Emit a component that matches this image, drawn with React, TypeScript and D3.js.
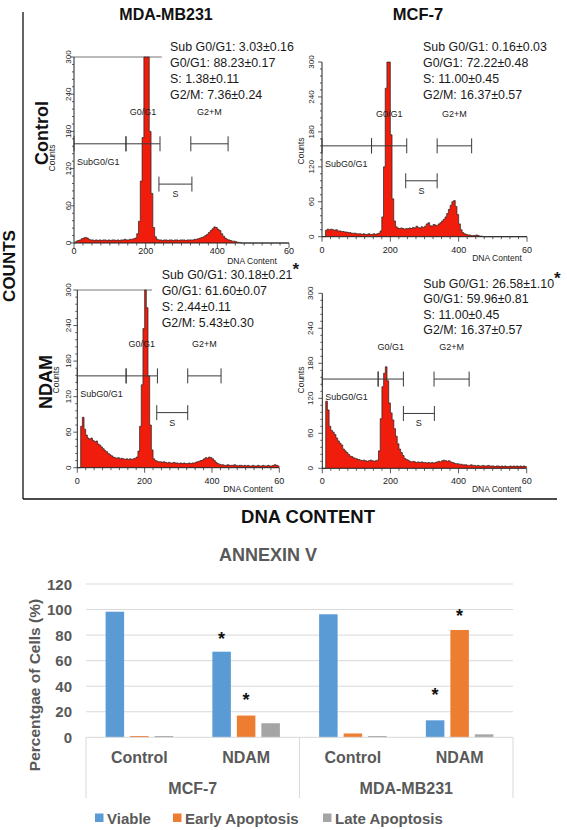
import React from "react";
import * as d3 from "d3";

// ---------------- DATA: DNA content histograms (bin width 5, 0..595) ----------------
const BIN = 5;
const mdaControlCounts = [
  0, 3, 4, 5, 7, 8, 9, 8, 6, 5,
  5, 4, 5, 4, 5, 4, 5, 5, 4, 5,
  4, 5, 5, 4, 5, 4, 5, 5, 6, 5,
  5, 6, 6, 7, 8, 15, 35, 100, 170, 300,
  300, 300, 180, 80, 25, 10, 6, 5, 5, 4,
  5, 5, 4, 5, 5, 4, 5, 5, 4, 5,
  5, 5, 4, 5, 5, 5, 5, 6, 6, 7,
  8, 9, 10, 12, 14, 17, 20, 23, 26, 25,
  22, 20, 15, 11, 8, 6, 5, 4, 3, 3,
  2, 1, 1, 0, 0, 0, 0, 0, 0, 0,
  0, 0, 0, 0, 0, 0, 0, 0, 0, 0,
  0, 0, 0, 0, 0, 0, 0, 0, 0, 0,
];
const mcfControlCounts = [
  0, 0, 11, 13, 12, 13, 12, 11, 12, 10,
  10, 9, 9, 8, 8, 7, 7, 6, 6, 6,
  5, 5, 5, 4, 5, 4, 4, 5, 4, 4,
  5, 4, 5, 6, 10, 34, 120, 255, 300, 300,
  175, 65, 27, 17, 15, 14, 15, 14, 13, 14,
  14, 15, 14, 16, 15, 18, 16, 15, 17, 16,
  18, 22, 24, 19, 18, 21, 20, 19, 22, 24,
  27, 30, 34, 40, 47, 54, 60, 62, 52, 38,
  22, 12, 7, 5, 4, 3, 3, 2, 2, 2,
  3, 2, 1, 1, 0, 0, 0, 0, 0, 0,
  0, 0, 0, 0, 0, 0, 0, 0, 0, 0,
  0, 0, 0, 0, 0, 0, 0, 0, 0, 0,
];
const mdaNdamCounts = [
  0, 0, 70, 85, 65, 55, 50, 48, 50, 46,
  44, 45, 40, 38, 35, 32, 29, 27, 24, 22,
  20, 18, 17, 16, 17, 15, 16, 15, 14, 15,
  14, 15, 14, 15, 16, 18, 28, 70, 140, 235,
  300, 270, 155, 72, 30, 15, 12, 11, 10, 10,
  9, 10, 9, 8, 9, 8, 8, 9, 8, 8,
  7, 8, 7, 8, 7, 7, 8, 7, 8, 8,
  9, 10, 11, 12, 13, 15, 17, 16, 18, 17,
  15, 12, 9, 7, 6, 5, 5, 4, 4, 5,
  4, 4, 4, 5, 4, 3, 4, 4, 3, 4,
  3, 4, 3, 3, 4, 3, 3, 4, 3, 3,
  4, 3, 3, 4, 3, 3, 4, 5, 4, 3,
];
const mcfNdamCounts = [
  0, 0, 115, 100, 72, 65, 62, 58, 52, 47,
  43, 40, 33, 30, 27, 24, 21, 20, 18, 17,
  16, 15, 14, 13, 14, 13, 12, 13, 14, 13,
  12, 13, 14, 30, 85, 140, 163, 174, 150, 112,
  95, 83, 68, 55, 42, 33, 27, 22, 17, 15,
  14, 12, 11, 12, 11, 10, 11, 10, 11, 10,
  10, 9, 10, 9, 10, 9, 10, 11, 12, 11,
  13, 14, 13, 12, 13, 11, 10, 9, 8, 8,
  7, 7, 6, 6, 6, 5, 5, 6, 5, 5,
  4, 5, 4, 4, 5, 4, 4, 5, 4, 4,
  4, 3, 4, 4, 3, 4, 3, 4, 3, 3,
  4, 3, 4, 3, 4, 3, 4, 3, 4, 3,
];

const cellLineTitles = ["MDA-MB231", "MCF-7"];
const treatmentLabels = ["Control", "NDAM"];
const statsMdaControl = ["Sub G0/G1: 3.03±0.16", "G0/G1: 88.23±0.17", "S: 1.38±0.11", "G2/M: 7.36±0.24"];
const statsMcfControl = ["Sub G0/G1: 0.16±0.03", "G0/G1: 72.22±0.48", "S: 11.00±0.45", "G2/M: 16.37±0.57"];
const statsMdaNdam = ["Sub G0/G1: 30.18±0.21", "G0/G1: 61.60±0.07", "S: 2.44±0.11", "G2/M: 5.43±0.30"];
const statsMcfNdam = ["Sub G0/G1: 26.58±1.10", "G0/G1: 59.96±0.81", "S: 11.00±0.45", "G2/M: 16.37±0.57"];
const histXTicks = [0, 200, 400, 600];
const histXTickLabels = ["0", "200", "400", "60"];
const histYTicks = [0, 60, 120, 180, 240, 300];
const gateNames = ["SubG0/G1", "G0/G1", "S", "G2+M"];
// gates: [start, end] in DNA content units; level in counts
const gatesMdaControl = [[0, 145], [145, 240], [237, 329], [326, 430]];
const gatesMcfControl = [[0, 145], [145, 248], [245, 337], [337, 438]];
const gatesMdaNdam = [[0, 145], [145, 238], [236, 328], [328, 427]];
const gatesMcfNdam = [[0, 164], [164, 238], [238, 329], [328, 431]];
const gateLevelsMain = [160, 156, 155, 153];
const gateLevelsS = [95, 96, 93, 94];

// ---------------- DATA: Annexin V ----------------
const barGroups = ["Control", "NDAM", "Control", "NDAM"];
const barCellLines = ["MCF-7", "MDA-MB231"];
const barSeries = ["Viable", "Early Apoptosis", "Late Apoptosis"];
const viableValues = [98.3, 67, 96.3, 13.3];
const earlyValues = [1, 17, 3, 84];
const lateValues = [1, 11, 1, 2.3];
const barYTicks = [0, 20, 40, 60, 80, 100, 120];
// significance markers: group index, series index, level
const starGroups = [1, 1, 3, 3];
const starSeries = [0, 1, 0, 1];
const starLevels = [80, 32, 36, 98];

const FONT = "Arial, 'Liberation Sans', Helvetica, sans-serif";
const RED = "#f01c0c";

type Layout = {
  left: number; right: number; bottom: number; top: number;
  xLabY: number; yLabX: number; countsX: number; countsY: number;
  dnaX: number; dnaY: number; statsX: number; statsY: number; statsDy: number;
  topLineEnd?: number; star?: { dy: number };
};

const layouts: Layout[] = [
  { left: 74, right: 289, bottom: 243, top: 57, xLabY: 253.5, yLabX: 71, countsX: 54.5, countsY: 158, dnaX: 252, dnaY: 264, statsX: 170, statsY: 51, statsDy: 15.9, topLineEnd: 245 },
  { left: 322, right: 527, bottom: 236.7, top: 62, xLabY: 252.7, yLabX: 314, countsX: 304, countsY: 151, dnaX: 497, dnaY: 261, statsX: 423, statsY: 51, statsDy: 15.9 },
  { left: 77.3, right: 279.3, bottom: 467.7, top: 290, xLabY: 484, yLabX: 71, countsX: 59, countsY: 380, dnaX: 248, dnaY: 492, statsX: 161.7, statsY: 279.3, statsDy: 15.9, topLineEnd: 222, star: { dy: -4 } },
  { left: 322.3, right: 526.7, bottom: 468.3, top: 293.3, xLabY: 483.5, yLabX: 313.5, countsX: 304, countsY: 380, dnaX: 496.7, dnaY: 492, statsX: 423.3, statsY: 287.6, statsDy: 15.6, star: { dy: -4 } },
];
const panelCounts = [mdaControlCounts, mcfControlCounts, mdaNdamCounts, mcfNdamCounts];
const panelStats = [statsMdaControl, statsMcfControl, statsMdaNdam, statsMcfNdam];
const panelGates = [gatesMdaControl, gatesMcfControl, gatesMdaNdam, gatesMcfNdam];

function HistPanel({ idx }: { idx: number }) {
  const L = layouts[idx];
  const counts = panelCounts[idx];
  const x = d3.scaleLinear().domain([0, 600]).range([L.left, L.right]);
  const y = d3.scaleLinear().domain([0, 300]).range([L.bottom, L.top]);
  const pts: [number, number][] = counts.map((c, i) => [i * BIN, Math.min(c, 300)]);
  pts.push([600, counts[counts.length - 1]]);
  const area = d3.area<[number, number]>().x((d) => x(d[0])).y0(y(0)).y1((d) => y(d[1])).curve(d3.curveStepAfter);
  const line = d3.line<[number, number]>().x((d) => x(d[0])).y((d) => y(d[1])).curve(d3.curveStepAfter);
  const minorY = d3.range(0, 301, 12);
  const minorX = d3.range(0, 601, 25);
  const gates = panelGates[idx];
  const cap = 7.5;
  const gateStroke = "#3a3a3a";
  return (
    <g>
      {L.topLineEnd !== undefined && (
        <line x1={x(0)} x2={x(L.topLineEnd)} y1={y(300)} y2={y(300)} stroke="#777" strokeWidth={1} />
      )}
      <path d={area(pts) || ""} fill={RED} />
      <path d={line(pts) || ""} fill="none" stroke="#222" strokeWidth={0.7} />
      <line x1={x(0)} x2={x(0)} y1={y(0)} y2={y(300)} stroke="#222" strokeWidth={1} />
      <line x1={x(0)} x2={x(600)} y1={y(0)} y2={y(0)} stroke="#222" strokeWidth={1} />
      {minorY.map((v) => (
        <line key={"my" + v} x1={x(0) - (v % 60 === 0 ? 4 : 2)} x2={x(0)} y1={y(v)} y2={y(v)} stroke="#333" strokeWidth={0.8} />
      ))}
      {minorX.map((v) => (
        <line key={"mx" + v} x1={x(v)} x2={x(v)} y1={y(0)} y2={y(0) + (v % 200 === 0 ? 5 : 2.5)} stroke="#333" strokeWidth={0.8} />
      ))}
      {histXTicks.map((v, i) => (
        <text key={"xt" + v} x={x(v)} y={L.xLabY} textAnchor="middle" fontSize={9} fontFamily={FONT} fill="#222">
          {histXTickLabels[i]}
        </text>
      ))}
      {histYTicks.map((v) => (
        <text key={"yt" + v} x={L.yLabX} y={y(v)} transform={`rotate(-90, ${L.yLabX}, ${y(v)})`} textAnchor="middle" fontSize={8} fontFamily={FONT} fill="#222">
          {v}
        </text>
      ))}
      <text x={L.countsX} y={L.countsY} transform={`rotate(-90, ${L.countsX}, ${L.countsY})`} textAnchor="middle" fontSize={8.5} fontFamily={FONT} fill="#222">
        Counts
      </text>
      <text x={L.dnaX} y={L.dnaY} textAnchor="middle" fontSize={8.5} fontFamily={FONT} fill="#222">
        DNA Content
      </text>
      {gates.map((g, gi) => {
        const lvl = gi === 2 ? gateLevelsS[idx] : gateLevelsMain[idx];
        const yy = y(lvl);
        const x0 = x(g[0]);
        const x1 = x(g[1]);
        const cx = (x0 + x1) / 2;
        let label;
        if (gi === 0) {
          label = <text x={x0 + 3} y={yy + 18} dominantBaseline="central" fontSize={9} fontFamily={FONT} fill="#222">{gateNames[gi]}</text>;
        } else if (gi === 2) {
          label = <text x={cx} y={yy + 10} dominantBaseline="central" textAnchor="middle" fontSize={9} fontFamily={FONT} fill="#222">{gateNames[gi]}</text>;
        } else {
          label = <text x={cx} y={yy - 32} dominantBaseline="central" textAnchor="middle" fontSize={9} fontFamily={FONT} fill="#222">{gateNames[gi]}</text>;
        }
        return (
          <g key={"g" + gi}>
            <line x1={x0} x2={x1} y1={yy} y2={yy} stroke={gateStroke} strokeWidth={1} />
            <line x1={x0} x2={x0} y1={yy - cap} y2={yy + cap} stroke={gateStroke} strokeWidth={1} />
            <line x1={x1} x2={x1} y1={yy - cap} y2={yy + cap} stroke={gateStroke} strokeWidth={1} />
            {label}
          </g>
        );
      })}
      {panelStats[idx].map((s, i) => (
        <text key={"s" + i} x={L.statsX} y={L.statsY + i * L.statsDy} fontSize={12.4} fontFamily={FONT} fill="#1a1a1a">
          {s}
          {i === 0 && L.star && (
            <tspan fontSize={17} fontWeight="bold" dy={L.star.dy}>*</tspan>
          )}
        </text>
      ))}
    </g>
  );
}

function BarChart() {
  const colors = ["#5b9bd5", "#ed7d31", "#a5a5a5"];
  const values = [viableValues, earlyValues, lateValues];
  const xGroup = d3.scaleBand<number>().domain(d3.range(barGroups.length)).range([86, 513]);
  const xSeries = d3.scaleBand<string>().domain(barSeries).range([0, xGroup.bandwidth()]).paddingInner(0.245).paddingOuter(0.8);
  const y = d3.scaleLinear().domain([0, 120]).range([737.3, 584]);
  const bw = xGroup.bandwidth();
  const sepBottom = 798;
  const textCol = "#595959";
  const legendX = [95, 173, 323];
  return (
    <g>
      <text x={268} y={561} textAnchor="middle" fontSize={18} fontWeight="bold" fontFamily={FONT} fill={textCol}>ANNEXIN V</text>
      {barYTicks.map((t) => (
        <g key={"bt" + t}>
          {t > 0 && <line x1={86} x2={513} y1={y(t)} y2={y(t)} stroke="#d9d9d9" strokeWidth={1} />}
          <text x={72} y={y(t) + 5.5} textAnchor="end" fontSize={15} fontWeight="bold" fontFamily={FONT} fill={textCol}>{t}</text>
        </g>
      ))}
      <text x={40} y={685} transform="rotate(-90, 40, 685)" textAnchor="middle" fontSize={15.5} fontWeight="bold" fontFamily={FONT} fill={textCol}>
        Percentgae of Cells (%)
      </text>
      {barGroups.map((g, gi) => (
        <g key={"grp" + gi}>
          {barSeries.map((s, si) => {
            const v = values[si][gi];
            return (
              <rect key={s} x={(xGroup(gi) as number) + (xSeries(s) as number)} y={y(v)} width={xSeries.bandwidth()} height={y(0) - y(v)} fill={colors[si]} />
            );
          })}
          <text x={(xGroup(gi) as number) + bw / 2} y={763} textAnchor="middle" fontSize={16} fontWeight="bold" fontFamily={FONT} fill={textCol}>{g}</text>
        </g>
      ))}
      <line x1={86} x2={513} y1={y(0)} y2={y(0)} stroke="#d9d9d9" strokeWidth={1} />
      {[0, 2, 4].map((b) => {
        const xx = b < 4 ? (xGroup(b) as number) : (xGroup(3) as number) + bw;
        return <line key={"sep" + b} x1={xx} x2={xx} y1={y(0)} y2={sepBottom} stroke="#d9d9d9" strokeWidth={1} />;
      })}
      {barCellLines.map((c, ci) => {
        const cx = ((xGroup(ci * 2) as number) + (xGroup(ci * 2 + 1) as number) + bw) / 2;
        return <text key={c} x={cx} y={794} textAnchor="middle" fontSize={16} fontWeight="bold" fontFamily={FONT} fill={textCol}>{c}</text>;
      })}
      {starGroups.map((g, i) => {
        const s = barSeries[starSeries[i]];
        const cx = (xGroup(g) as number) + (xSeries(s) as number) + xSeries.bandwidth() / 2;
        return (
          <text key={"st" + i} x={cx} y={y(starLevels[i]) + 10} textAnchor="middle" fontSize={18} fontWeight="bold" fontFamily={FONT} fill="#111">*</text>
        );
      })}
      {barSeries.map((s, si) => (
        <g key={"lg" + s}>
          <rect x={legendX[si]} y={813.5} width={8.5} height={8.5} fill={colors[si]} />
          <text x={legendX[si] + 12} y={823.5} fontSize={15} fontWeight="bold" fontFamily={FONT} fill={textCol}>{s}</text>
        </g>
      ))}
    </g>
  );
}

export default function App() {
  return (
    <svg width={567} height={830} style={{ position: "absolute", left: 0, top: 0, background: "#fff" }}>
      <rect width={567} height={830} fill="#fff" />
      <line x1={23} x2={23} y1={12} y2={499} stroke="#111" strokeWidth={1.3} />
      <line x1={23} x2={557} y1={499} y2={499} stroke="#111" strokeWidth={1.3} />
      <text x={166} y={20} textAnchor="middle" fontSize={16} fontWeight="bold" fontFamily={FONT} fill="#111">{cellLineTitles[0]}</text>
      <text x={418} y={20} textAnchor="middle" fontSize={16.5} fontWeight="bold" fontFamily={FONT} fill="#111">{cellLineTitles[1]}</text>
      <text x={48} y={133} transform="rotate(-90, 48, 133)" textAnchor="middle" fontSize={18} fontWeight="bold" fontFamily={FONT} fill="#111">{treatmentLabels[0]}</text>
      <text x={52} y={382} transform="rotate(-90, 52, 382)" textAnchor="middle" fontSize={18} fontWeight="bold" fontFamily={FONT} fill="#111">{treatmentLabels[1]}</text>
      <text x={15} y={266} transform="rotate(-90, 15, 266)" textAnchor="middle" fontSize={17} fontWeight="bold" fontFamily={FONT} fill="#111">COUNTS</text>
      <text x={308} y={523} textAnchor="middle" fontSize={18.5} fontWeight="bold" fontFamily={FONT} fill="#111">DNA CONTENT</text>
      {[0, 1, 2, 3].map((i) => (
        <HistPanel key={i} idx={i} />
      ))}
      <BarChart />
    </svg>
  );
}
